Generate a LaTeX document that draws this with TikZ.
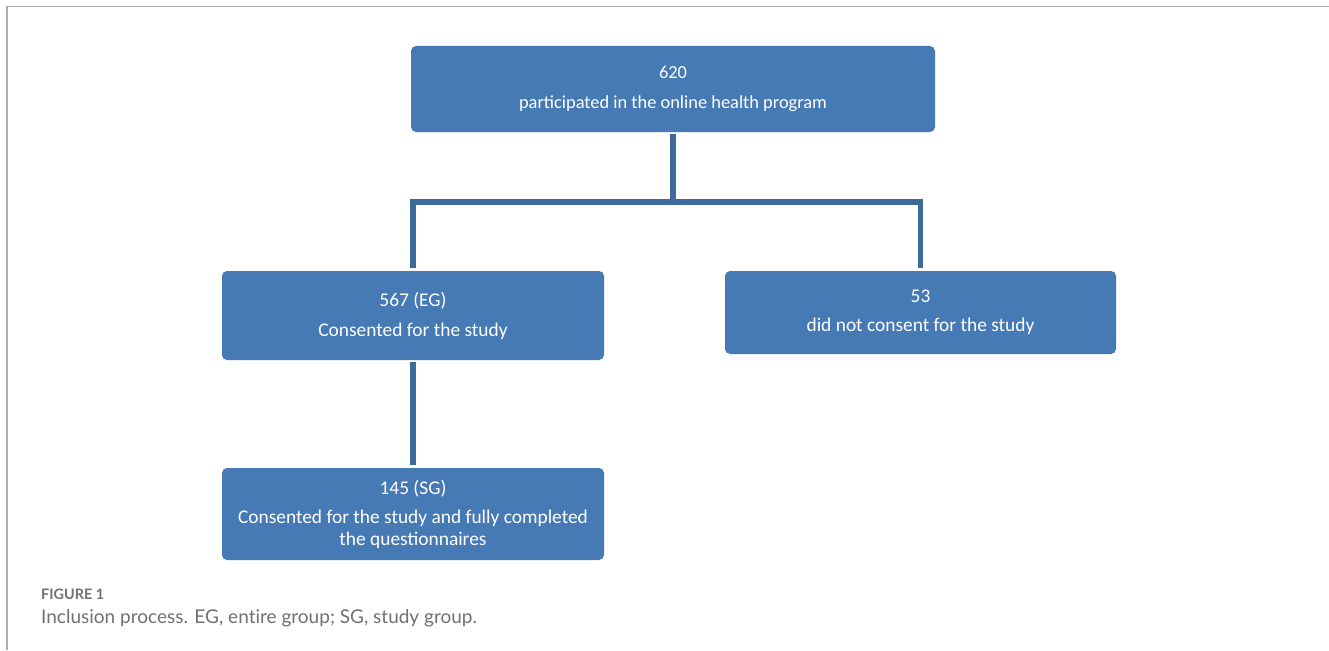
\documentclass[tikz,border=0pt]{standalone}
\usepackage{fontspec}
\setmainfont{Carlito}
\newfontfamily\capfont{Lato}[Ligatures=NoCommon]
\definecolor{boxblue}{RGB}{70,122,181}
\definecolor{linkblue}{RGB}{62,106,154}
\definecolor{capgray}{RGB}{112,112,112}
\tikzstyle{box}=[rounded corners=5pt, fill=boxblue, text=white, align=center,
  font=\fontsize{18.4}{22}\selectfont, inner sep=0pt]
\tikzstyle{lowbox}=[box, font=\fontsize{19.4}{22}\selectfont]
\tikzstyle{link}=[linkblue, line width=5.5pt, shorten <=2pt, shorten >=3pt]

\begin{document}
\begin{tikzpicture}[x=1pt, y=-1pt]
\useasboundingbox (0,0) rectangle (1329,650);
% Frame
    \draw[gray!65, line width=1.5pt] (7,650) -- (7,6.5) -- (1329,6.5);
% Boxes
    \node[box, minimum width=524pt, minimum height=86pt] (all) at (673,89)
      {620\\[8pt]participated in the online health program};
    \node[lowbox, minimum width=382pt, minimum height=89pt] (eg) at (413,315.5)
      {567 (EG)\\[8pt]Consented for the study};
    \node[lowbox, minimum width=391pt, minimum height=83pt] (nocon) at (920.5,312.5)
      {53\\[7pt]did not consent for the study};
    \node[lowbox, minimum width=382pt, minimum height=92pt] (sg) at (413,514)
      {145 (SG)\\[7pt]Consented for the study and fully completed\\the questionnaires};
% Connectors
    \coordinate (split) at (673,202);
    \draw[link, shorten >=0pt] (all.south) -- (split);
    \draw[link, shorten <=0pt] (split) -| (eg.north);
    \draw[link, shorten <=0pt] (split) -| (nocon.north);
    \draw[link] (eg.south) -- (sg.north);
% Caption
    \node[anchor=base west, inner sep=0pt, text=capgray, font=\capfont\bfseries\fontsize{14.4}{17}\selectfont]
      (fig) at (41,599) {FIGURE 1};
    \node[anchor=base west, inner sep=0pt, text=capgray, font=\capfont\fontsize{19}{23}\selectfont]
      (cap) at (41,623) {Inclusion process. EG, entire group; SG, study group.};
\end{tikzpicture}
\end{document}
